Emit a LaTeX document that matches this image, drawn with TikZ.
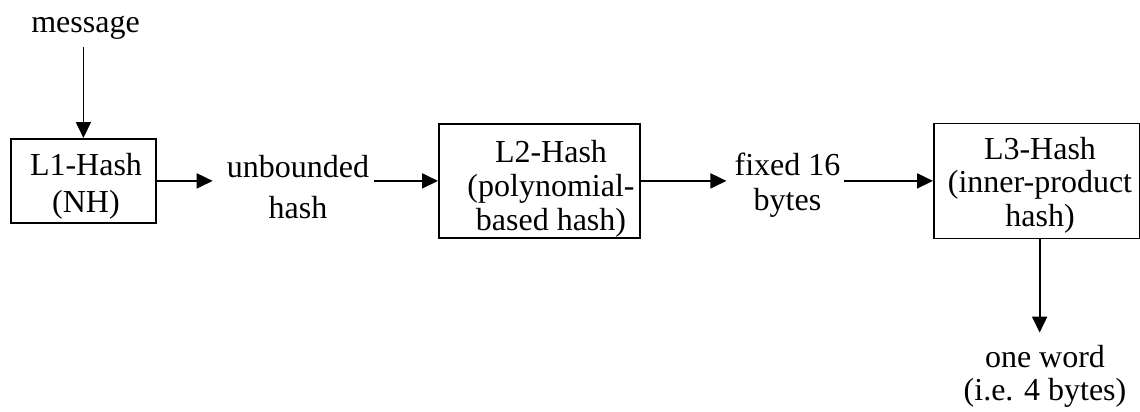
\documentclass[tikz,border=0pt]{standalone}
\usepackage{fontspec}
\setmainfont{Liberation Serif}
\usetikzlibrary{arrows.meta}
\begin{document}
\begin{tikzpicture}[x=1pt,y=-1pt,
  box/.style={draw,line width=1.8pt,inner sep=0pt,anchor=north west},
  lbl/.style={font=\fontsize{32}{#1}\selectfont,align=center,inner sep=0pt,anchor=base},
  lbl/.default=35,
  arr/.style={line width=1.8pt,-{Triangle[length=16pt,width=15pt]}}]
\useasboundingbox[fill=white] (0,0) rectangle (1140,412);
% boxes
\node[box,minimum width=145pt,minimum height=84pt] (b1) at (10,138) {};
\node[box,minimum width=201pt,minimum height=114pt] (b2) at (438,123) {};
\node[box,minimum width=205.5pt,minimum height=115pt] (b3) at (933,122.5) {};
% labels (anchor = baseline of last line)
\node[lbl] (msg) at (85.5,33) {message};
\node[lbl=37] (t1) at (86,212) {L1-Hash\\(NH)};
\node[lbl=34] (t2) at (551,230) {L2-Hash\\(polynomial-\\based hash)};
\node[lbl=33.5] (t3) at (1040,226) {L3-Hash\\(inner-product\\hash)};
\node[lbl=41] (unb) at (298,218) {unbounded\\hash};
\node[lbl=35] (fix) at (787.5,210) {fixed 16\\bytes};
\node[lbl=33] (ow) at (1045,400) {one word\\(i.e. 4 bytes)};
% connectors
\draw[arr,shorten <=7pt] (msg.south -| b1.north) -- (b1.north);
\draw[arr,shorten >=14pt] (b1.east) -- (b1.east -| unb.west);
\draw[arr,shorten <=5pt] (b2.west -| unb.east) -- (b2.west);
\draw[arr,shorten >=8pt] (b2.east) -- (b2.east -| fix.west);
\draw[arr,shorten <=3pt] (b3.west -| fix.east) -- (b3.west);
\draw[arr,shorten >=12pt] ([xshift=3pt]b3.south) -- ([xshift=3pt]b3.south |- ow.north);
\end{tikzpicture}
\end{document}
